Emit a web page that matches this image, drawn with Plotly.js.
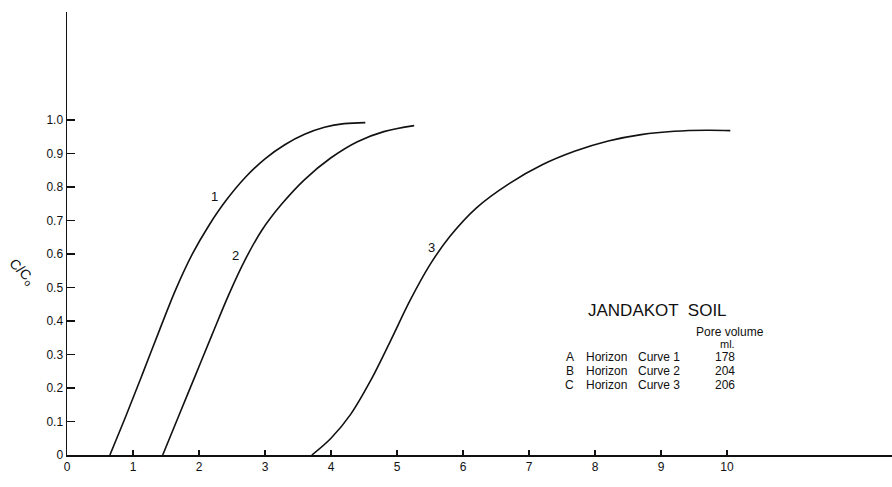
<!DOCTYPE html>
<html>
<head>
<meta charset="utf-8">
<script src="https://cdn.plot.ly/plotly-3.0.1.min.js"></script>
<style>html,body{margin:0;padding:0;background:#fff;}#chart{width:892px;height:487px;}</style>
</head>
<body>
<div id="chart"></div>
<script>
// Curve 1 (A Horizon)
const curve1X = [0.65, 0.9, 1.15, 1.4, 1.65, 1.9, 2.15, 2.4, 2.7, 3.0, 3.3, 3.6, 3.9, 4.2, 4.52];
const curve1Y = [0.0, 0.12, 0.245, 0.372, 0.495, 0.60, 0.685, 0.757, 0.828, 0.884, 0.926, 0.957, 0.978, 0.989, 0.992];
// Curve 2 (B Horizon)
const curve2X = [1.45, 1.7, 1.95, 2.2, 2.45, 2.7, 2.95, 3.25, 3.6, 4.0, 4.4, 4.8, 5.26];
const curve2Y = [0.0, 0.12, 0.24, 0.36, 0.478, 0.583, 0.67, 0.748, 0.822, 0.887, 0.935, 0.965, 0.983];
// Curve 3 (C Horizon)
const curve3X = [3.71, 4.0, 4.3, 4.6, 4.9, 5.2, 5.5, 5.8, 6.2, 6.7, 7.2, 7.7, 8.2, 8.7, 9.2, 9.7, 10.05];
const curve3Y = [0.0, 0.05, 0.122, 0.222, 0.340, 0.462, 0.568, 0.652, 0.737, 0.81, 0.866, 0.907, 0.937, 0.956, 0.966, 0.969, 0.968];

const curveLabels = ['1', '2', '3'];
const curveLabelX = [2.24, 2.55, 5.53];
const curveLabelY = [0.77, 0.595, 0.62];

const xTickVals = [0, 1, 2, 3, 4, 5, 6, 7, 8, 9, 10];
const xTickText = ['0', '1', '2', '3', '4', '5', '6', '7', '8', '9', '10'];
const yTickVals = [0, 0.1, 0.2, 0.3, 0.4, 0.5, 0.6, 0.7, 0.8, 0.9, 1.0];
const yTickText = ['0', '0.1', '0.2', '0.3', '0.4', '0.5', '0.6', '0.7', '0.8', '0.9', '1.0'];

const legendTitle = 'JANDAKOT  SOIL';
const legendColHead = ['Pore volume', 'ml.'];
const legendLetters = ['A', 'B', 'C'];
const legendHorizon = ['Horizon', 'Horizon', 'Horizon'];
const legendCurves = ['Curve 1', 'Curve 2', 'Curve 3'];
const poreVolumes = [178, 204, 206];

const ink = '#111';
const font = 'Liberation Sans, Arial, sans-serif';

const lineStyle = {color: ink, width: 1.6, shape: 'spline', smoothing: 1.0};
const traces = [
  {x: curve1X, y: curve1Y, mode: 'lines', line: lineStyle, hoverinfo: 'none'},
  {x: curve2X, y: curve2Y, mode: 'lines', line: lineStyle, hoverinfo: 'none'},
  {x: curve3X, y: curve3Y, mode: 'lines', line: lineStyle, hoverinfo: 'none'}
];

const ann = [];
curveLabels.forEach((t, i) => ann.push({x: curveLabelX[i], y: curveLabelY[i], xref: 'x', yref: 'y', text: t, showarrow: false, font: {size: 13, color: ink, family: font}}));
ann.push({x: 8.94, y: 0.432, xref: 'x', yref: 'y', text: legendTitle, showarrow: false, font: {size: 17, color: ink, family: font}});
ann.push({x: 10.05, y: 0.368, xref: 'x', yref: 'y', text: legendColHead[0], showarrow: false, font: {size: 12, color: ink, family: font}});
ann.push({x: 10.0, y: 0.330, xref: 'x', yref: 'y', text: legendColHead[1], showarrow: false, font: {size: 11, color: ink, family: font}});
const rowY = [0.292, 0.250, 0.208];
legendLetters.forEach((l, i) => {
  ann.push({x: 7.62, y: rowY[i], xref: 'x', yref: 'y', text: l, showarrow: false, font: {size: 12, color: ink, family: font}});
  ann.push({x: 7.83, y: rowY[i], xref: 'x', yref: 'y', text: legendHorizon[i], xanchor: 'left', showarrow: false, font: {size: 12, color: ink, family: font}});
  ann.push({x: 8.62, y: rowY[i], xref: 'x', yref: 'y', text: legendCurves[i], xanchor: 'left', showarrow: false, font: {size: 12, color: ink, family: font}});
  ann.push({x: 9.97, y: rowY[i], xref: 'x', yref: 'y', text: String(poreVolumes[i]), showarrow: false, font: {size: 12, color: ink, family: font}});
});
ann.push({x: 5.1, y: -0.052, xref: 'x', yref: 'y', text: 'Volume ml × 100', showarrow: false, font: {size: 12, color: ink, family: font}});
ann.push({x: -0.0545, y: 0.546, xref: 'paper', yref: 'y', xanchor: 'center', yanchor: 'middle', text: 'C/C<sub>o</sub>', textangle: 45, showarrow: false, font: {size: 14, color: ink, family: font}});

const layout = {
  width: 892, height: 487,
  margin: {l: 67, r: 0, t: 12, b: 32},
  paper_bgcolor: '#fff', plot_bgcolor: '#fff',
  showlegend: false,
  xaxis: {
    range: [0, 12.5], showgrid: false, zeroline: false,
    showline: true, linecolor: ink, linewidth: 1.5,
    ticks: 'inside', ticklen: 5, tickcolor: ink, tickwidth: 1.2,
    tickvals: xTickVals, ticktext: xTickText,
    tickfont: {size: 12, color: ink, family: font}
  },
  yaxis: {
    range: [0, 1.322], showgrid: false, zeroline: false,
    showline: true, linecolor: ink, linewidth: 1.5,
    ticks: 'inside', ticklen: 8, tickcolor: ink, tickwidth: 1.2,
    tickvals: yTickVals, ticktext: yTickText,
    tickfont: {size: 12, color: ink, family: font}
  },
  annotations: ann
};

Plotly.newPlot('chart', traces, layout, {displayModeBar: false, staticPlot: true});
</script>
</body>
</html>
